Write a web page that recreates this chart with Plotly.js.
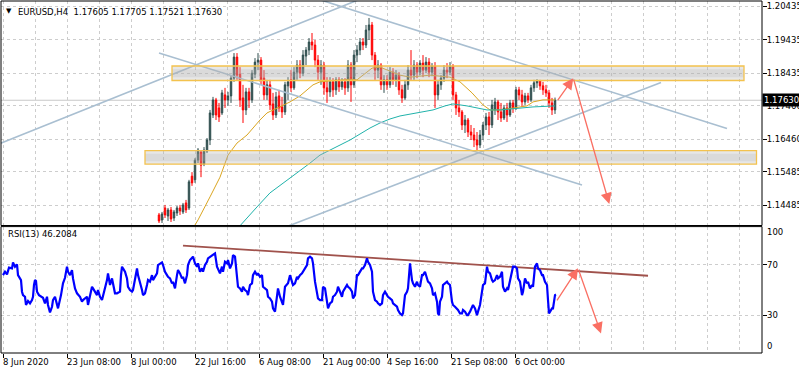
<!DOCTYPE html>
<html><head><meta charset="utf-8">
<script src="https://cdn.plot.ly/plotly-3.0.1.min.js"></script>
<style>html,body{margin:0;padding:0;background:#fff;}#chart{width:799px;height:375px;}</style>
</head><body><div id="chart"></div>
<script>
// ---------- data ----------
const chartTitle = 'EURUSD,H4\u00a0\u00a01.17605 1.17705 1.17521 1.17630';
const rsiTitle = 'RSI(13) 46.2084';
const lastPrice = 1.17630;
const lastPriceText = '1.17630';

const priceTickVals = [1.20435, 1.19435, 1.18435, 1.17460, 1.16460, 1.15485, 1.14485];
const priceTickText = ['1.20435', '1.19435', '1.18435', '1.17460', '1.16460', '1.15485', '1.14485'];
const rsiTickVals = [100, 70, 30, 0];
const rsiTickText = ['100', '70', '30', '0'];
const rsiGridVals = [70, 30];
const dateTickBars = [0, 64, 128, 192, 256, 320, 384, 448, 512];
const dateTickText = ['8 Jun 2020', '23 Jun 08:00', '8 Jul 00:00', '22 Jul 16:00', '6 Aug 08:00', '21 Aug 00:00', '4 Sep 16:00', '21 Sep 08:00', '6 Oct 00:00'];

// candles (bar index counted from 8 Jun 00:00, H4 bars)
const candleBar = [156,159,162,165,168,171,174,177,180,183,186,189,192,195,198,201,204,207,210,213,216,219,222,225,228,231,234,237,240,243,246,249,252,255,258,261,264,267,270,273,276,279,282,285,288,291,294,297,300,303,306,309,312,315,318,321,324,327,330,333,336,339,342,345,348,351,354,357,360,363,366,369,372,375,378,381,384,387,390,393,396,399,402,405,408,411,414,417,420,423,426,429,432,435,438,441,444,447,450,453,456,459,462,465,468,471,474,477,480,483,486,489,492,495,498,501,504,507,510,513,516,519,522,525,528,531,534,537,540,543,546,549,552];
const candleOpen = [
1.1420,1.1405,1.1441,1.1417,1.1435,1.1411,1.1426,1.1441,1.1429,1.1456,
1.1441,1.1536,1.1525,1.1584,1.1608,1.1572,1.1611,1.1644,1.1719,1.1764,
1.1740,1.1725,1.1779,1.1764,1.1776,1.1829,1.1892,1.1841,1.1770,1.1734,
1.1788,1.1764,1.1841,1.1877,1.1883,1.1829,1.1779,1.1809,1.1752,1.1719,
1.1776,1.1743,1.1728,1.1806,1.1824,1.1800,1.1847,1.1868,1.1844,1.1895,
1.1913,1.1937,1.1928,1.1883,1.1847,1.1868,1.1800,1.1788,1.1818,1.1794,
1.1824,1.1803,1.1818,1.1800,1.1868,1.1809,1.1898,1.1913,1.1937,1.1928,
1.1973,1.1988,1.1898,1.1853,1.1868,1.1809,1.1824,1.1809,1.1847,1.1824,
1.1838,1.1794,1.1770,1.1809,1.1853,1.1838,1.1868,1.1847,1.1874,1.1853,
1.1877,1.1847,1.1865,1.1779,1.1809,1.1829,1.1853,1.1847,1.1865,1.1779,
1.1740,1.1728,1.1689,1.1704,1.1668,1.1659,1.1644,1.1629,1.1659,1.1689,
1.1713,1.1689,1.1734,1.1758,1.1728,1.1710,1.1740,1.1719,1.1755,1.1740,
1.1794,1.1779,1.1758,1.1776,1.1764,1.1800,1.1815,1.1821,1.1806,1.1794,
1.1785,1.1755,1.1734];
const candleHigh = [
1.1426,1.1429,1.1450,1.1441,1.1444,1.1435,1.1447,1.1450,1.1456,1.1465,
1.1525,1.1548,1.1590,1.1620,1.1614,1.1623,1.1650,1.1734,1.1773,1.1770,
1.1755,1.1794,1.1800,1.1788,1.1838,1.1904,1.1904,1.1862,1.1809,1.1800,
1.1800,1.1853,1.1889,1.1904,1.1892,1.1853,1.1824,1.1824,1.1785,1.1788,
1.1794,1.1773,1.1818,1.1832,1.1853,1.1862,1.1883,1.1883,1.1913,1.1922,
1.1949,1.1964,1.1943,1.1898,1.1883,1.1877,1.1832,1.1832,1.1829,1.1832,
1.1832,1.1829,1.1829,1.1883,1.1877,1.1913,1.1928,1.1949,1.1949,1.1988,
1.2009,1.1997,1.1907,1.1883,1.1874,1.1838,1.1838,1.1862,1.1859,1.1853,
1.1847,1.1809,1.1824,1.1868,1.1913,1.1883,1.1877,1.1883,1.1898,1.1892,
1.1889,1.1874,1.1877,1.1824,1.1838,1.1868,1.1874,1.1877,1.1871,1.1788,
1.1764,1.1734,1.1719,1.1710,1.1689,1.1680,1.1668,1.1674,1.1698,1.1725,
1.1728,1.1764,1.1770,1.1764,1.1755,1.1749,1.1755,1.1764,1.1764,1.1803,
1.1803,1.1794,1.1785,1.1785,1.1809,1.1824,1.1826,1.1824,1.1818,1.1809,
1.1794,1.1770,1.1771];
const candleLow = [
1.1396,1.1396,1.1411,1.1402,1.1399,1.1402,1.1417,1.1420,1.1423,1.1426,
1.1435,1.1507,1.1516,1.1575,1.1533,1.1566,1.1605,1.1629,1.1710,1.1704,
1.1698,1.1719,1.1740,1.1746,1.1755,1.1818,1.1824,1.1743,1.1695,1.1719,
1.1740,1.1755,1.1829,1.1853,1.1809,1.1764,1.1764,1.1734,1.1704,1.1710,
1.1728,1.1710,1.1719,1.1764,1.1788,1.1794,1.1824,1.1829,1.1835,1.1868,
1.1898,1.1913,1.1862,1.1824,1.1809,1.1779,1.1755,1.1773,1.1773,1.1779,
1.1788,1.1794,1.1779,1.1788,1.1758,1.1800,1.1877,1.1898,1.1913,1.1919,
1.1943,1.1883,1.1824,1.1829,1.1794,1.1785,1.1794,1.1800,1.1809,1.1803,
1.1779,1.1755,1.1764,1.1794,1.1824,1.1824,1.1829,1.1838,1.1832,1.1844,
1.1832,1.1835,1.1740,1.1764,1.1794,1.1818,1.1829,1.1838,1.1764,1.1719,
1.1713,1.1674,1.1665,1.1653,1.1644,1.1623,1.1614,1.1620,1.1644,1.1674,
1.1659,1.1680,1.1719,1.1704,1.1698,1.1704,1.1698,1.1713,1.1725,1.1734,
1.1764,1.1743,1.1749,1.1755,1.1758,1.1788,1.1800,1.1794,1.1779,1.1773,
1.1740,1.1719,1.1722];
const candleClose = [
1.1402,1.1423,1.1420,1.1435,1.1408,1.1429,1.1441,1.1432,1.1450,1.1435,
1.1519,1.1516,1.1584,1.1614,1.1569,1.1614,1.1644,1.1725,1.1764,1.1719,
1.1713,1.1785,1.1764,1.1776,1.1829,1.1892,1.1838,1.1764,1.1734,1.1788,
1.1764,1.1844,1.1877,1.1883,1.1824,1.1779,1.1809,1.1749,1.1719,1.1773,
1.1740,1.1728,1.1809,1.1818,1.1800,1.1847,1.1868,1.1844,1.1898,1.1913,
1.1937,1.1928,1.1883,1.1847,1.1868,1.1800,1.1788,1.1818,1.1794,1.1824,
1.1803,1.1818,1.1800,1.1868,1.1809,1.1898,1.1913,1.1937,1.1928,1.1973,
1.1988,1.1898,1.1853,1.1868,1.1809,1.1824,1.1809,1.1847,1.1824,1.1838,
1.1794,1.1770,1.1809,1.1853,1.1838,1.1868,1.1847,1.1874,1.1853,1.1877,
1.1847,1.1865,1.1779,1.1809,1.1829,1.1853,1.1847,1.1865,1.1779,1.1740,
1.1728,1.1689,1.1704,1.1668,1.1659,1.1644,1.1629,1.1659,1.1689,1.1713,
1.1689,1.1749,1.1758,1.1728,1.1710,1.1740,1.1719,1.1755,1.1740,1.1794,
1.1779,1.1758,1.1776,1.1764,1.1800,1.1815,1.1821,1.1806,1.1794,1.1785,
1.1755,1.1734,1.1763];

// moving averages
const maFastBar = [189,195,207,217,225,234,244,250,257,264,274,287,297,304,310,317,327,337,347,354,362,369,377,387,397,407,417,427,437,447,457,469,480,487,497,510,524,530,540,552];
const maFastValue = [1.1375,1.1405,1.1474,1.1533,1.1599,1.1635,1.1659,1.1680,1.1704,1.1725,1.1740,1.1758,1.1776,1.1794,1.1809,1.1818,1.1821,1.1824,1.1826,1.1824,1.1844,1.1859,1.1862,1.1850,1.1838,1.1832,1.1835,1.1838,1.1835,1.1832,1.1818,1.1785,1.1749,1.1734,1.1734,1.1740,1.1746,1.1758,1.1764,1.1764];
const maSlowBar = [235,242,254,267,280,294,307,317,327,337,347,357,367,377,387,397,412,430,442,450,464,484,497,517,530,552];
const maSlowValue = [1.1381,1.1405,1.1444,1.1486,1.1516,1.1546,1.1575,1.1599,1.1614,1.1629,1.1644,1.1662,1.1680,1.1695,1.1707,1.1716,1.1725,1.1734,1.1746,1.1752,1.1746,1.1734,1.1734,1.1740,1.1743,1.1746];

// RSI(13)
const rsiBar = [
0,2,4,6,9,10,12,14,15,18, 19,20,22,23,25,27,29,30,31,32, 33,34,36,39,40,42,44,45,47,49,
50,52,54,55,58,60,62,64,65,67, 69,70,72,74,77,79,80,84,85,87, 89,90,92,94,95,97,99,102,104,105,
107,109,110,112,114,117,118,119,120,122, 124,125,127,129,130,132,134,135,137,139, 140,142,144,145,147,149,150,152,154,155,
157,159,160,162,164,165,167,169,170,172, 174,175,177,179,180,182,184,185,187,189, 190,192,194,195,197,199,200,202,204,205,
207,210,212,214,215,217,219,220,222,224, 225,227,229,230,232,233,234,235,237,239, 240,242,244,245,247,249,250,252,254,255,
257,259,260,262,264,265,267,269,270,272, 274,275,277,279,280,282,284,285,287,289, 290,292,294,295,297,299,300,302,304,305,
307,309,310,312,314,315,317,319,320,322, 324,325,327,329,330,332,334,335,337,339, 340,342,344,345,347,349,350,352,354,355,
357,359,360,362,364,365,367,369,370,372, 374,375,377,379,380,382,384,385,387,389, 390,392,394,395,397,399,400,402,404,405,
407,409,410,412,414,415,417,419,420,422, 424,425,427,429,430,432,434,435,436,437, 439,440,442,444,445,447,449,450,452,454,
455,457,459,460,462,464,465,467,469,470, 472,474,475,477,479,480,482,484,485,487, 489,490,492,494,495,497,499,500,502,504,
505,507,509,510,512,514,515,517,519,520, 522,524,525,527,529,530,532,534,535,537, 539,540,542,544,545,546,549,550,552,553];
const rsiValue = [
61.6,64.3,62.2,67.5,66.9,71.7,68.3,70.1,61.6,57.7, 48.5,45.8,44.5,38.0,41.1,39.3,41.9,44.5,53.8,57.7, 56.9,48.5,45.8,44.5,43.7,39.3,44.5,38.0,32.1,36.6,
41.9,44.5,38.0,35.3,45.8,55.1,59.5,68.3,64.3,61.6, 65.6,59.0,51.1,47.2,44.5,40.6,41.9,44.5,38.0,45.8, 52.4,51.1,48.5,45.8,49.8,44.5,41.9,51.1,57.7,63.0,
53.8,59.0,55.1,47.2,47.2,48.5,61.6,68.3,66.9,64.3, 59.0,52.4,49.8,48.5,49.8,60.3,66.9,61.6,56.4,49.8, 45.8,47.2,53.8,57.7,56.4,61.6,57.7,60.3,63.0,69.6,
70.9,71.7,69.6,64.3,61.6,60.3,59.0,55.1,56.4,51.1, 61.6,65.6,63.0,59.0,60.3,55.1,61.6,69.6,73.6,74.9, 76.2,70.9,68.3,70.9,64.3,66.9,64.3,69.6,72.2,74.9,
76.2,77.5,78.8,68.3,66.9,63.0,68.3,64.3,72.2,70.9, 73.6,66.9,70.9,77.5,76.2,64.3,60.3,52.4,51.1,48.5, 52.4,49.8,48.5,45.8,53.8,55.1,61.6,64.3,61.6,63.0,
60.3,61.6,52.4,51.1,49.8,44.5,43.2,40.6,35.3,32.7, 44.5,51.1,44.5,40.6,38.0,52.4,53.8,55.1,61.6,56.4, 53.8,55.1,60.3,59.0,61.6,63.0,64.3,66.9,69.6,74.9,
76.2,74.9,70.9,56.4,48.5,43.2,41.9,41.9,52.4,51.1, 40.6,35.3,39.3,40.6,44.5,45.8,48.5,52.4,48.5,44.5, 48.5,51.1,53.8,52.4,51.1,48.5,43.2,45.8,61.6,61.6,
64.3,66.9,66.9,69.6,74.9,72.2,69.6,64.3,48.5,41.9, 40.6,39.3,38.0,39.3,45.8,48.5,45.8,44.5,43.2,41.9, 39.3,38.0,36.6,34.0,31.3,30.0,31.3,45.8,48.5,51.1,
70.9,57.7,55.1,52.4,56.4,53.8,52.4,61.6,61.6,64.3, 59.0,56.4,55.1,51.1,45.8,47.2,40.6,31.3,30.0,40.6, 44.5,53.8,55.1,56.4,55.1,53.8,40.6,38.0,36.6,35.3,
34.0,31.3,31.3,34.0,32.7,30.0,30.0,32.7,36.6,38.0, 35.3,30.0,32.7,38.0,48.5,53.8,55.1,68.3,64.3,63.0, 57.7,56.4,57.7,61.6,59.0,60.3,64.3,52.4,48.5,51.1,
49.8,57.7,64.3,68.3,68.3,66.9,59.0,56.4,45.8,48.5, 59.0,55.1,56.4,51.1,53.8,52.4,68.3,70.9,66.9,65.6, 61.6,61.6,56.4,53.8,41.9,31.3,35.3,35.3,45.8,46.2];

// hand-drawn objects (bar index, price / RSI value)
const channelBars = [[-3, 380], [156, 579], [286, 724], [262, 658]];
const channelPrices = [[1.16336, 1.20926], [1.19042, 1.15096], [1.20926, 1.16785], [1.13601, 1.18160]];
const zoneBarStart = [169, 142];
const zoneBarEnd = [741, 753.5];
const zoneTop = [1.18654, 1.16121];
const zoneBottom = [1.18220, 1.15718];
const rsiTrendBar = [180, 645];
const rsiTrendValue = [85.0, 61.1];
const priceArrowBar = [553.7, 570.3, 606.3];
const priceArrowValue = [1.17586, 1.18286, 1.14528];
const rsiArrowBar = [553, 575, 598];
const rsiArrowValue = [40.5, 67.0, 15.5];

// ---------- layout helpers ----------
const W = 799, H = 375, ML = 1, MR = 37, MT = 1, MB = 22;
const px2x = px => (px - ML) / (W - ML - MR);
const px2y = py => (H - MB - py) / (H - MT - MB);
const FONT = 'DejaVu Sans, Verdana, sans-serif';
const GRID = '#cdcdcd';
const DASH = '3px,3px';

const traces = [];
traces.push({
  type: 'candlestick', x: candleBar, open: candleOpen, high: candleHigh, low: candleLow, close: candleClose,
  xaxis: 'x', yaxis: 'y', whiskerwidth: 0, hoverinfo: 'skip', showlegend: false,
  increasing: {line: {color: '#2f4f4f', width: 1}, fillcolor: '#2f4f4f'},
  decreasing: {line: {color: '#ff0000', width: 1}, fillcolor: '#ff0000'}
});
traces.push({type: 'scatter', mode: 'lines', x: maFastBar, y: maFastValue, xaxis: 'x', yaxis: 'y',
  line: {color: '#daa520', width: 1}, hoverinfo: 'skip', showlegend: false});
traces.push({type: 'scatter', mode: 'lines', x: maSlowBar, y: maSlowValue, xaxis: 'x', yaxis: 'y',
  line: {color: '#20b2aa', width: 1}, hoverinfo: 'skip', showlegend: false});
channelBars.forEach((b, i) => traces.push({type: 'scatter', mode: 'lines', x: b, y: channelPrices[i],
  xaxis: 'x', yaxis: 'y', line: {color: '#a9bfd1', width: 1.6}, hoverinfo: 'skip', showlegend: false}));
traces.push({type: 'scatter', mode: 'lines', x: rsiTrendBar, y: rsiTrendValue, xaxis: 'x', yaxis: 'y2',
  line: {color: '#a0524c', width: 1.8}, hoverinfo: 'skip', showlegend: false});
traces.push({type: 'scatter', mode: 'lines', x: rsiBar, y: rsiValue, xaxis: 'x', yaxis: 'y2',
  line: {color: '#0000ff', width: 2.2}, hoverinfo: 'skip', showlegend: false});

const shapes = [];
shapes.push({type: 'line', xref: 'x domain', yref: 'y', x0: 0, x1: 1, y0: lastPrice, y1: lastPrice,
  line: {color: '#c8c8c8', width: 1}, layer: 'below'});
zoneBarStart.forEach((b, i) => {
  const h = zoneTop[i] - zoneBottom[i];
  shapes.push({type: 'rect', xref: 'x', yref: 'y', x0: b, x1: zoneBarEnd[i], y0: zoneBottom[i], y1: zoneTop[i],
    fillcolor: 'rgba(175,175,175,0.30)', line: {width: 0}, layer: 'above'});
  shapes.push({type: 'rect', xref: 'x', yref: 'y', x0: b, x1: zoneBarEnd[i], y0: zoneBottom[i] + h * 0.22, y1: zoneTop[i] - h * 0.22,
    fillcolor: 'rgba(175,175,175,0.22)', line: {width: 0}, layer: 'above'});
  shapes.push({type: 'rect', xref: 'x', yref: 'y', x0: b, x1: zoneBarEnd[i], y0: zoneBottom[i], y1: zoneTop[i],
    fillcolor: 'rgba(0,0,0,0)', line: {color: '#f3c24e', width: 1.3}, layer: 'above'});
});
shapes.push({type: 'rect', xref: 'x domain', yref: 'y domain', x0: 0, x1: 1, y0: 0, y1: 1,
  line: {color: '#000', width: 1}, layer: 'above'});
shapes.push({type: 'rect', xref: 'x domain', yref: 'y2 domain', x0: 0, x1: 1, y0: 0, y1: 1,
  line: {color: '#000', width: 1}, layer: 'above'});

const ann = [];
const txt = (text, x, y, extra) => Object.assign({text, x, y, xref: 'paper', yref: 'paper', showarrow: false,
  xanchor: 'left', yanchor: 'middle', font: {family: FONT, size: 8.5, color: '#000'}}, extra || {});
ann.push(txt('\u25BC', px2x(9), px2y(11.5), {xanchor: 'center', font: {family: FONT, size: 7, color: '#000'}}));
ann.push(txt(chartTitle, px2x(16), px2y(12)));
ann.push(txt(rsiTitle, px2x(6), px2y(234)));
dateTickBars.forEach((b, i) => ann.push(txt(dateTickText[i], b, px2y(361.5), {xref: 'x', xshift: -2})));
const rsiLabelShift = [-5.7, 0, 0, 6.6];
rsiTickVals.forEach((v, i) => ann.push(txt(rsiTickText[i], 1, v, {yref: 'y2', xshift: 3, yshift: rsiLabelShift[i]})));
ann.push(txt(lastPriceText, 1, lastPrice, {yref: 'y', xshift: 0, bgcolor: '#000', borderpad: 1,
  font: {family: FONT, size: 8.5, color: '#fff'}}));
const arrow = (xh, yh, xt, yt, yr) => ({x: xh, y: yh, ax: xt, ay: yt, xref: 'x', yref: yr, axref: 'x', ayref: yr,
  text: '', showarrow: true, arrowhead: 2, arrowsize: 1.7, arrowwidth: 1.3, arrowcolor: '#fa6f63', standoff: 0});
ann.push(arrow(priceArrowBar[1], priceArrowValue[1], priceArrowBar[0], priceArrowValue[0], 'y'));
ann.push(arrow(priceArrowBar[2], priceArrowValue[2], priceArrowBar[1], priceArrowValue[1], 'y'));
ann.push(arrow(rsiArrowBar[1], rsiArrowValue[1], rsiArrowBar[0], rsiArrowValue[0], 'y2'));
ann.push(arrow(rsiArrowBar[2], rsiArrowValue[2], rsiArrowBar[1], rsiArrowValue[1], 'y2'));

const layout = {
  width: W, height: H, autosize: false,
  margin: {l: ML, r: MR, t: MT, b: MB, pad: 0},
  paper_bgcolor: '#fff', plot_bgcolor: '#fff', showlegend: false,
  font: {family: FONT, size: 8.5, color: '#000'},
  xaxis: {range: [-2, 759], anchor: 'y2', tickmode: 'array', tickvals: dateTickBars, ticks: 'outside', ticklen: 4,
    tickcolor: '#000', showticklabels: false, showgrid: true, gridcolor: GRID, griddash: DASH, gridwidth: 1,
    zeroline: false, showline: false, fixedrange: true, rangeslider: {visible: false},
    minor: {tickmode: 'linear', tick0: 0, dtick: 32, showgrid: true, gridcolor: GRID, griddash: DASH, gridwidth: 1, ticks: ''}},
  yaxis: {domain: [px2y(225.5), 1], range: [1.13885, 1.20597], side: 'right', anchor: 'x',
    tickmode: 'array', tickvals: priceTickVals, ticktext: priceTickText, ticks: 'outside', ticklen: 4, tickcolor: '#000',
    ticklabelstandoff: -2,
    tickfont: {family: FONT, size: 8.5, color: '#000'}, showgrid: true, gridcolor: GRID, griddash: DASH,
    zeroline: false, showline: false, fixedrange: true},
  yaxis2: {domain: [0, px2y(226.6)], range: [0, 100], side: 'right', anchor: 'x',
    tickmode: 'array', tickvals: rsiGridVals, ticks: 'outside', ticklen: 4, tickcolor: '#000', showticklabels: false,
    showgrid: true, gridcolor: GRID, griddash: DASH, zeroline: false, showline: false, fixedrange: true},
  shapes: shapes, annotations: ann
};
Plotly.newPlot('chart', traces, layout, {staticPlot: true, displayModeBar: false});
</script></body></html>
